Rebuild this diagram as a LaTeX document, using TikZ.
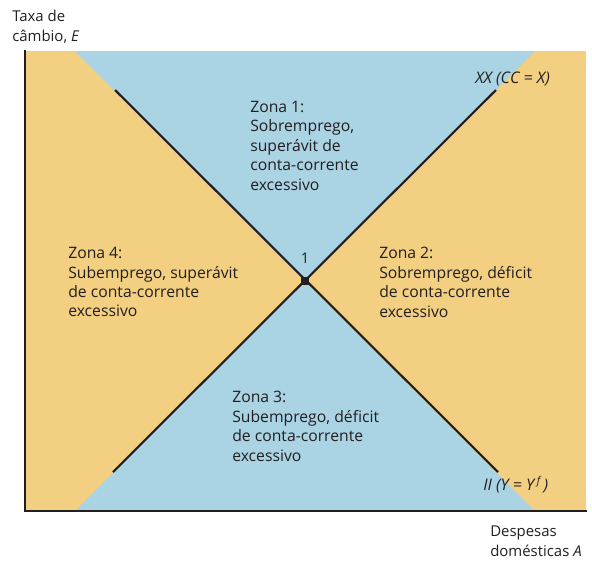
\documentclass[tikz,border=0pt]{standalone}
\usepackage{fontspec}
\setmainfont{Open Sans}
\usetikzlibrary{positioning}

\definecolor{zonaorange}{RGB}{243,207,130}
\definecolor{zonablue}{RGB}{170,211,228}
\definecolor{inkdark}{RGB}{35,31,32}

\tikzset{
	zonetext/.style={align=left, anchor=north west, inner sep=0pt, text=inkdark,
		font=\fontsize{11.8}{14.6}\selectfont},
	axislabel/.style={align=left, anchor=north west, inner sep=0pt, text=inkdark,
		font=\fontsize{11.2}{14.6}\selectfont},
	curvelabel/.style={anchor=north west, inner sep=0pt, text=inkdark,
		font=\fontsize{12}{13}\selectfont\itshape},
	schedule/.style={line width=1.6pt, draw=inkdark},
}

\begin{document}
\begin{tikzpicture}[x=0.75pt,y=-0.75pt]
		\useasboundingbox (0,0) rectangle (592,562);

		% Zones
		\fill[zonaorange] (25,51) rectangle (586,511);
		\fill[zonablue] (75,51) -- (535,51) -- (305,281) -- cycle;
		\fill[zonablue] (75,511) -- (535,511) -- (305,281) -- cycle;

		% Axes
		\draw[line width=1.5pt, inkdark] (25,50) -- (25,511) -- (587,511);
		\node[axislabel] (ylabel) at (12,10) {Taxa de\\câmbio, \textit{E}};
		\node[axislabel] (xlabel) at (490,526) {Despesas\\domésticas \textit{A}};

		% Schedules XX and II
		\coordinate (xxlow) at (113,472);
		\coordinate (xxhigh) at (496,90);
		\coordinate (iihigh) at (115,90);
		\coordinate (iilow) at (498,472);
		\draw[schedule] (xxlow) -- (xxhigh);
		\draw[schedule] (iihigh) -- (iilow);
		\node[curvelabel] (xxlabel) at (475,72) {XX (CC = X)};
		\node[curvelabel] (iilabel) at (483,476) {II (Y = Y\,\textsuperscript{f}\,)};

		% Equilibrium point
		\node[fill=inkdark, minimum size=6pt, inner sep=0pt] (eq) at (305,281) {};
		\node[above=6.5pt of eq, text=inkdark, font=\fontsize{11}{13}\selectfont] (eqlabel) {1};

		% Zone labels
		\node[zonetext] (zona1) at (250,101) {Zona 1:\\Sobremprego,\\superávit de\\conta-corrente\\excessivo};
		\node[zonetext] (zona2) at (379,247) {Zona 2:\\Sobremprego, déficit\\de conta-corrente\\excessivo};
		\node[zonetext] (zona3) at (232,391) {Zona 3:\\Subemprego, déficit\\de conta-corrente\\excessivo};
		\node[zonetext] (zona4) at (68,247) {Zona 4:\\Subemprego, superávit\\de conta-corrente\\excessivo};

	\end{tikzpicture}
\end{document}
